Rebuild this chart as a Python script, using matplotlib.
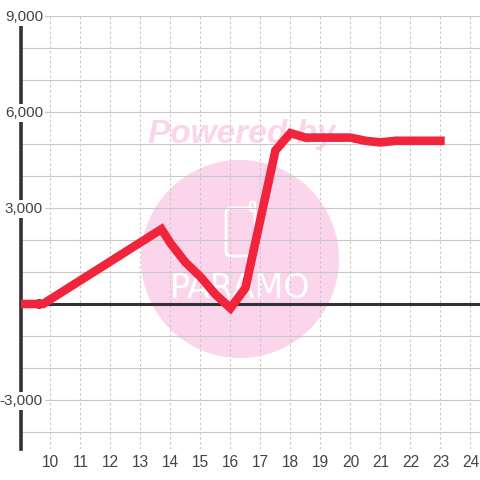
import matplotlib
matplotlib.use('Agg')
import matplotlib.pyplot as plt
from matplotlib.patches import Circle, FancyBboxPatch
from matplotlib.transforms import IdentityTransform

plt.rcParams['font.family'] = ['Liberation Sans', 'DejaVu Sans']

# values
hours = [9, 9.75, 13.7, 14, 14.5, 15, 15.5, 16, 16.5, 17.5, 18, 18.5, 20, 20.5, 21, 21.5, 23]
values = [0, 0, 2340, 1900, 1300, 850, 300, -130, 500, 4800, 5340, 5200, 5200, 5100, 5050, 5100, 5100]
x_ticks = list(range(10, 25))
y_major = [-3000, 0, 3000, 6000, 9000]
y_minor = [-4000, -2000, -1000, 1000, 2000, 4000, 5000, 7000, 8000]

W, H = 480, 480
PINK = '#fbd5ec'
TEXT = '#444444'
DARK = '#333333'

fig = plt.figure(figsize=(W / 100, H / 100), dpi=100)
ax = fig.add_axes([20.5 / W, (H - 449) / H, (W - 20.5) / W, (449 - 16) / H])
ax.set_xlim(9, 24.32)
ax.set_ylim(-4531, 9000)
ax.patch.set_visible(False)

# watermark sits under the grid, positions are in pixels
ident = IdentityTransform()
fig.add_artist(Circle((240, H - 259), 99, transform=ident, fc=PINK, ec='none', zorder=-3))
fig.add_artist(FancyBboxPatch((229, H - 253), 23, 42, boxstyle='round,pad=3,rounding_size=5',
                              transform=ident, fc='none', ec='white', lw=2, zorder=-2))
fig.add_artist(FancyBboxPatch((251, H - 210), 3, 7, boxstyle='round,pad=1,rounding_size=2',
                              transform=ident, fc='none', ec='white', lw=1.6, zorder=-2))
fig.text(242 / W, (H - 135) / H, 'Powered by', color=PINK, fontsize=24, fontweight='bold',
         fontstyle='italic', ha='center', va='center', zorder=-2)
fig.text(240 / W, (H - 288) / H, 'PARAMO', color='white', fontsize=24, family='DejaVu Sans',
         ha='center', va='center', zorder=-2)

for v in y_major + y_minor:
    if v != 0:
        ax.axhline(v, color='#c8c8c8', lw=0.8, zorder=1)
for x in x_ticks:
    ax.axvline(x, color='#c8c8c8', lw=0.8, ls=(0, (2.2, 2.2)), zorder=1)

ax.axhline(0, color=DARK, lw=2.2, zorder=2)
ax.plot(hours, values, color='#f0243a', lw=6.2, solid_joinstyle='miter', solid_capstyle='projecting', zorder=3)

for s in ['top', 'right', 'bottom']:
    ax.spines[s].set_visible(False)
ax.spines['left'].set_color(DARK)
ax.spines['left'].set_linewidth(2.6)
ax.spines['left'].set_zorder(2)

ax.set_xticks(x_ticks)
ax.set_yticks([])
ax.tick_params(axis='x', length=0, labelsize=11.2, labelcolor=TEXT, pad=4)

for v in y_major:
    ax.annotate(f'{v:,}', (0, v), xycoords=('axes fraction', 'data'), xytext=(43, H - 305 + v * 0.032),
                textcoords=ident, ha='right', va='center', fontsize=11, color=TEXT, zorder=2.5,
                annotation_clip=False,
                bbox=dict(fc='white', ec='none', pad=1.5))

fig.savefig('out.png', dpi=100)
